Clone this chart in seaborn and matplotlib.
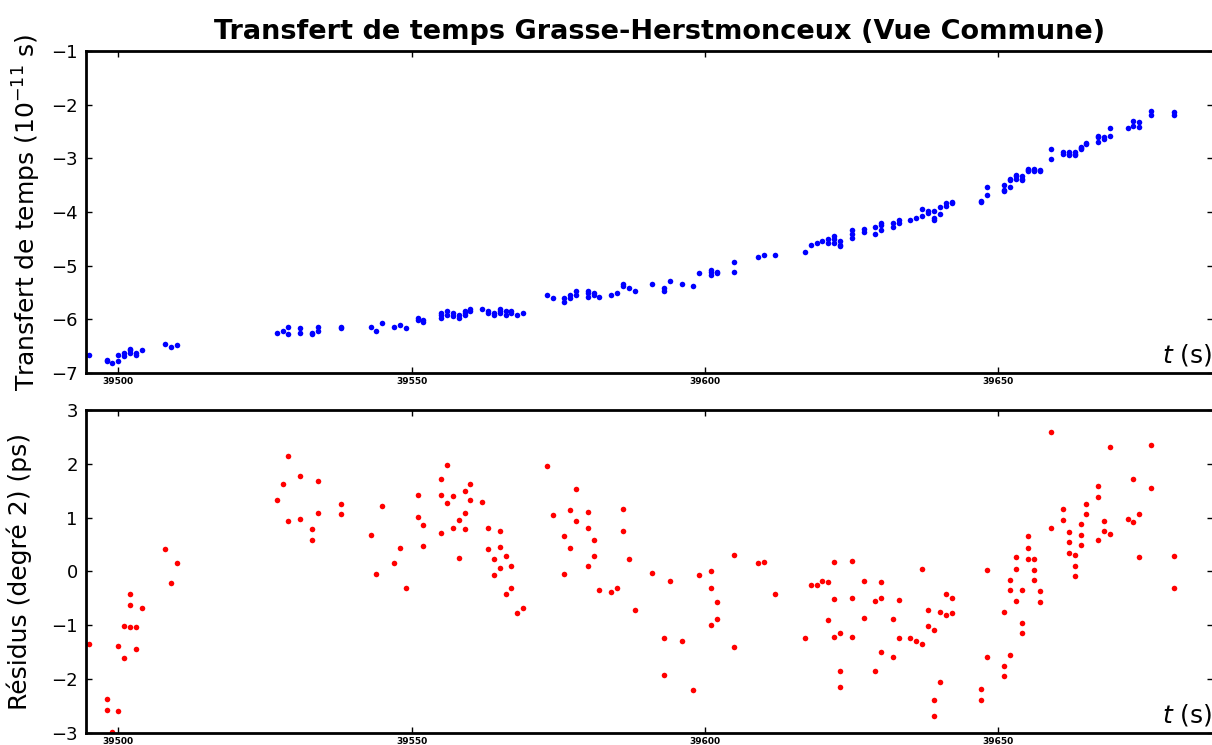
# Transfert de temps Grasse-Herstmonceux (Vue Commune)
# time transfer (top) and degree-2 residuals (bottom)

import numpy as np
import pandas as pd
import matplotlib
matplotlib.use('Agg')
import matplotlib.pyplot as plt
import seaborn as sns

# ==========================================
# DATA
# ==========================================

t = [
    39495, 39498, 39498, 39499, 39500, 39500, 39501, 39501, 39502, 39502,
    39502, 39503, 39503, 39504, 39508, 39509, 39510,
    39527, 39528, 39529, 39529, 39531, 39531, 39533, 39533, 39534, 39534,
    39538, 39538, 39543, 39544, 39545, 39547, 39548, 39549,
    39551, 39551, 39552, 39552, 39555, 39555, 39555, 39556, 39556, 39557,
    39557, 39558, 39558, 39559, 39559, 39559, 39560, 39560, 39562, 39563,
    39563, 39564, 39564, 39565, 39565, 39565, 39566, 39566, 39567, 39567,
    39568, 39569,
    39573, 39574, 39576, 39576, 39577, 39577, 39578, 39578, 39580, 39580,
    39580, 39581, 39581, 39582, 39584, 39585, 39586, 39586, 39587, 39588,
    39591, 39593, 39593, 39594, 39596, 39598, 39599, 39601, 39601, 39601,
    39602, 39602, 39605, 39605, 39609, 39610, 39612,
    39617, 39618, 39619, 39620, 39621, 39621, 39622, 39622, 39622, 39623,
    39623, 39623, 39625, 39625, 39625, 39627, 39627, 39629, 39629, 39630,
    39630, 39630, 39632, 39632, 39633, 39633, 39635, 39636, 39637, 39637,
    39638, 39638, 39639, 39639, 39639, 39640, 39640, 39641, 39641, 39642,
    39642,
    39647, 39647, 39648, 39648, 39651, 39651, 39651, 39652, 39652, 39652,
    39653, 39653, 39653, 39654, 39654, 39654, 39655, 39655, 39655, 39656,
    39656, 39656, 39657, 39657, 39659, 39659, 39661, 39661, 39662, 39662,
    39662, 39663, 39663, 39663, 39664, 39664, 39664, 39665, 39665, 39667,
    39667, 39667, 39668, 39668, 39669, 39669, 39672, 39673, 39673, 39674,
    39674, 39676, 39676, 39680, 39680,
]

# time transfer, units of 1e-11 s
transfert = [
    -6.66, -6.76, -6.78, -6.82, -6.66, -6.78, -6.62, -6.68, -6.56, -6.58,
    -6.62, -6.62, -6.66, -6.58, -6.46, -6.52, -6.48,
    -6.25, -6.22, -6.15, -6.28, -6.17, -6.25, -6.25, -6.27, -6.15, -6.21,
    -6.15, -6.17, -6.15, -6.21, -6.07, -6.15, -6.11, -6.17,
    -5.97, -6.01, -6.01, -6.05, -5.88, -5.91, -5.98, -5.84, -5.91, -5.88,
    -5.94, -5.91, -5.98, -5.84, -5.88, -5.91, -5.81, -5.84, -5.81, -5.84,
    -5.88, -5.88, -5.91, -5.81, -5.84, -5.88, -5.84, -5.91, -5.84, -5.88,
    -5.91, -5.88,
    -5.54, -5.61, -5.61, -5.68, -5.54, -5.61, -5.48, -5.54, -5.48, -5.51,
    -5.58, -5.51, -5.54, -5.58, -5.54, -5.51, -5.34, -5.38, -5.41, -5.48,
    -5.34, -5.41, -5.48, -5.28, -5.34, -5.38, -5.14, -5.08, -5.11, -5.18,
    -5.11, -5.14, -4.94, -5.11, -4.84, -4.81, -4.81,
    -4.74, -4.61, -4.58, -4.54, -4.51, -4.58, -4.44, -4.51, -4.58, -4.54,
    -4.61, -4.64, -4.34, -4.41, -4.48, -4.31, -4.38, -4.28, -4.41, -4.21,
    -4.24, -4.34, -4.21, -4.28, -4.14, -4.21, -4.14, -4.11, -3.94, -4.08,
    -3.98, -4.01, -3.98, -4.11, -4.14, -3.91, -4.04, -3.84, -3.88, -3.81,
    -3.84,
    -3.79, -3.81, -3.53, -3.69, -3.49, -3.59, -3.61, -3.39, -3.41, -3.53,
    -3.31, -3.33, -3.39, -3.33, -3.39, -3.41, -3.19, -3.21, -3.23, -3.19,
    -3.21, -3.23, -3.21, -3.23, -2.83, -3.01, -2.89, -2.91, -2.89, -2.91,
    -2.93, -2.89, -2.91, -2.93, -2.79, -2.81, -2.83, -2.71, -2.73, -2.59,
    -2.61, -2.69, -2.61, -2.63, -2.43, -2.59, -2.43, -2.31, -2.39, -2.33,
    -2.41, -2.11, -2.19, -2.13, -2.19,
]

# residuals of the degree-2 fit, ps
residus = [
    -1.35, -2.37, -2.57, -2.98, -1.39, -2.59, -1.01, -1.60, -0.42, -0.62,
    -1.03, -1.04, -1.44, -0.67, 0.42, -0.21, 0.15,
    1.32, 1.63, 2.15, 0.94, 1.77, 0.97, 0.78, 0.58, 1.68, 1.08,
    1.26, 1.06, 0.68, -0.05, 1.22, 0.16, 0.43, -0.31,
    1.42, 1.01, 0.87, 0.47, 1.72, 1.42, 0.72, 1.97, 1.27, 1.41,
    0.81, 0.95, 0.25, 1.49, 1.09, 0.79, 1.63, 1.32, 1.29, 0.81,
    0.41, 0.24, -0.06, 0.76, 0.46, 0.06, 0.28, -0.42, 0.10, -0.30,
    -0.78, -0.67,
    1.96, 1.05, 0.65, -0.05, 1.14, 0.44, 1.53, 0.93, 1.10, 0.80,
    0.10, 0.59, 0.29, -0.34, -0.39, -0.31, 1.16, 0.76, 0.23, -0.71,
    -0.03, -1.23, -1.92, -0.18, -1.29, -2.21, -0.07, 0.00, -0.30, -1.00,
    -0.57, -0.88, 0.30, -1.40, 0.16, 0.17, -0.42,
    -1.24, -0.25, -0.26, -0.18, -0.20, -0.90, 0.18, -0.52, -1.22, -1.15,
    -1.85, -2.15, 0.20, -0.50, -1.21, -0.17, -0.87, -0.55, -1.85, -0.19,
    -0.49, -1.49, -0.88, -1.58, -0.53, -1.23, -1.24, -1.29, 0.05, -1.35,
    -0.72, -1.01, -1.08, -2.38, -2.68, -0.75, -2.05, -0.41, -0.81, -0.49,
    -0.78,
    -2.18, -2.39, 0.03, -1.58, -0.75, -1.75, -1.95, -0.15, -0.35, -1.55,
    0.26, 0.05, -0.55, -0.35, -0.95, -1.15, 0.65, 0.44, 0.24, 0.24,
    0.03, -0.16, -0.37, -0.57, 2.60, 0.80, 1.16, 0.96, 0.74, 0.54,
    0.34, 0.31, 0.11, -0.09, 0.88, 0.68, 0.49, 1.25, 1.06, 1.58,
    1.38, 0.59, 0.94, 0.75, 2.31, 0.70, 0.97, 1.72, 0.92, 1.07,
    0.26, 2.35, 1.55, 0.29, -0.31,
]

df = pd.DataFrame({'t': t, 'transfert': transfert, 'residus': residus})

# ==========================================
# STYLE
# ==========================================

sns.set_style('white', {
    'xtick.direction': 'in',
    'ytick.direction': 'in',
    'xtick.top': True,
    'ytick.right': True,
    'xtick.bottom': True,
    'ytick.left': True,
    'axes.edgecolor': 'black',
    'axes.labelcolor': 'black',
    'text.color': 'black',
    'xtick.color': 'black',
    'ytick.color': 'black',
})
plt.rcParams['font.family'] = ['DejaVu Sans']
plt.rcParams['axes.linewidth'] = 2.0

fig = plt.figure(figsize=(12.12, 7.45), dpi=100)

ax1 = fig.add_axes([0.0710, 0.4993, 0.9300, 0.4322])
ax2 = fig.add_axes([0.0710, 0.0161, 0.9300, 0.4336])

# ==========================================
# TOP: TIME TRANSFER
# ==========================================

sns.scatterplot(data=df, x='t', y='transfert', ax=ax1,
                color='blue', s=16, linewidth=0)
ax1.set_ylim(-7, -1)
ax1.set_yticks([-7, -6, -5, -4, -3, -2, -1])
ax1.set_ylabel('Transfert de temps (10$^{-11}$ s)', fontsize=18, labelpad=6)
ax1.set_title('Transfert de temps Grasse-Herstmonceux (Vue Commune)',
              fontsize=19.5, fontweight='bold', pad=9, x=0.509)

# ==========================================
# BOTTOM: RESIDUALS
# ==========================================

sns.scatterplot(data=df, x='t', y='residus', ax=ax2,
                color='red', s=16, linewidth=0)
ax2.set_ylim(-3, 3)
ax2.set_yticks([-3, -2, -1, 0, 1, 2, 3])
ax2.set_ylabel('Résidus (degré 2) (ps)', fontsize=18, labelpad=14)

for ax in (ax1, ax2):
    ax.set_xlim(39494.5, 39686.6)
    ax.set_xticks([39500, 39550, 39600, 39650])
    ax.set_xticklabels(['39500', '39550', '39600', '39650'],
                       fontsize=6.5, fontweight='bold')
    ax.tick_params(axis='y', labelsize=13, length=4, width=1, pad=6)
    ax.tick_params(axis='x', length=4, width=1, pad=3)
    ax.set_xlabel('')
    ax.text(0.999, 0.015, '$t$ (s)', transform=ax.transAxes,
            ha='right', va='bottom', fontsize=18)

fig.savefig('out.png', dpi=100)
